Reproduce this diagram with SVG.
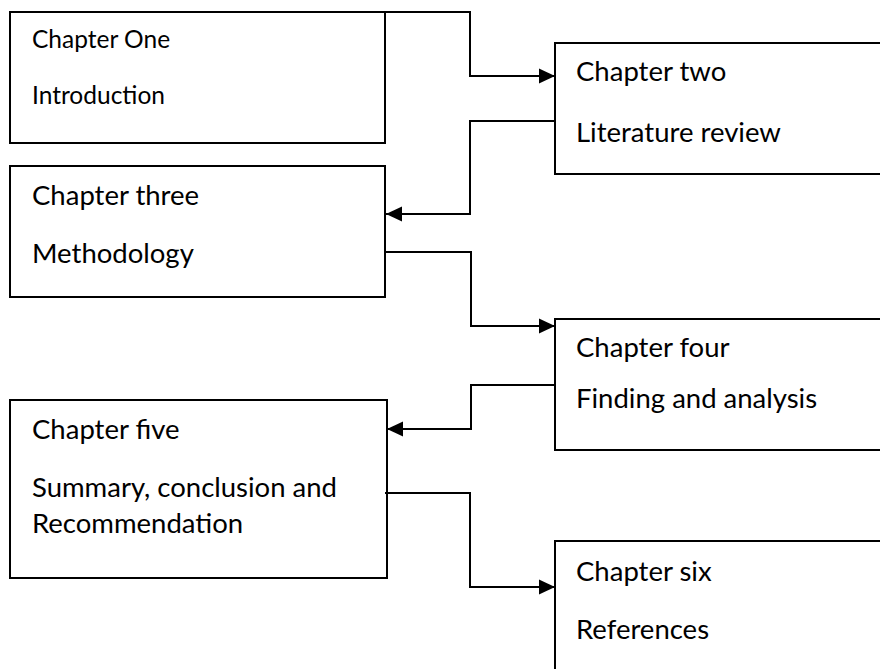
<svg xmlns="http://www.w3.org/2000/svg" width="880" height="669" viewBox="0 0 880 669">
<style>
.box{fill:#fff;stroke:#000;stroke-width:2}
.t{font-family:Lato,"Liberation Sans",sans-serif;font-size:27.5px;fill:#000}
.s{font-size:24.5px}
.c{fill:none;stroke:#000;stroke-width:2}
</style>
<defs>
<marker id="ah" markerUnits="userSpaceOnUse" markerWidth="16" markerHeight="16" viewBox="0 0 16 16" refX="16" refY="8" orient="auto">
<path d="M0,0.5 L16,8 L0,15.5 Z" fill="#000"/>
</marker>
</defs>
<rect width="880" height="669" fill="#fff"/>
<g id="n1"><rect class="box" x="10" y="12" width="375" height="131"/>
<text class="t s" x="32" y="48">Chapter One</text><text class="t s" x="32" y="104">Introduction</text></g>
<g id="n2"><rect class="box" x="555" y="43" width="340" height="131"/>
<text class="t" x="576" y="81">Chapter two</text><text class="t" x="576" y="142">Literature review</text></g>
<g id="n3"><rect class="box" x="10" y="166" width="375" height="131"/>
<text class="t" x="32" y="205">Chapter three</text><text class="t" x="32" y="263">Methodology</text></g>
<g id="n4"><rect class="box" x="555" y="319" width="340" height="131"/>
<text class="t" x="576" y="357">Chapter four</text><text class="t" x="576" y="408">Finding and analysis</text></g>
<g id="n5"><rect class="box" x="10" y="400" width="377" height="178"/>
<text class="t" x="32" y="439">Chapter five</text><text class="t" x="32" y="497">Summary, conclusion and</text><text class="t" x="32" y="533">Recommendation</text></g>
<g id="n6"><rect class="box" x="555" y="541" width="340" height="140"/>
<text class="t" x="576" y="581">Chapter six</text><text class="t" x="576" y="639">References</text></g>
<g id="connectors">
<polyline class="c" points="385,12 470,12 470,76 555,76" marker-end="url(#ah)"/>
<polyline class="c" points="555,121 470,121 470,214 386,214" marker-end="url(#ah)"/>
<polyline class="c" points="386,252 471,252 471,326 555,326" marker-end="url(#ah)"/>
<polyline class="c" points="555,385 471,385 471,429 387,429" marker-end="url(#ah)"/>
<polyline class="c" points="385,493 470,493 470,587 555,587" marker-end="url(#ah)"/>
</g>
</svg>
